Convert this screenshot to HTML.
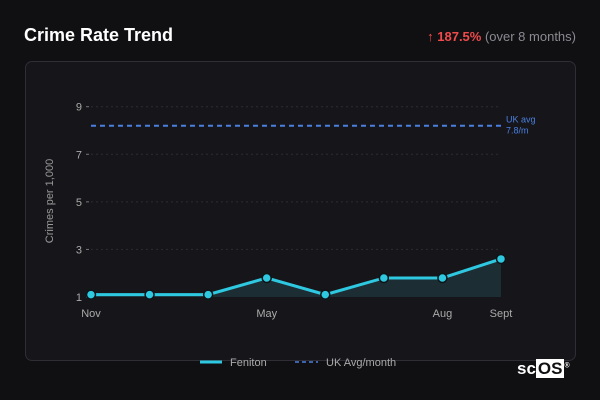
<!DOCTYPE html>
<html><head><meta charset="utf-8"><style>
html,body{margin:0;padding:0;background:#101013;width:600px;height:400px;overflow:hidden;font-family:"Liberation Sans",sans-serif}
</style></head><body>
<div style="position:absolute;left:24px;top:25px;color:#fff;font-size:18px;font-weight:bold">Crime Rate Trend</div>
<div style="position:absolute;right:24px;top:29px;font-size:13px;color:#8a8a90"><span style="color:#ef4b4b;font-weight:bold">↑ 187.5%</span> (over 8 months)</div>
<div style="position:absolute;left:25px;top:61px;width:549px;height:298px;border:1px solid #2e2e34;border-radius:7px;background:#16161a"></div>
<svg id="c" width="600" height="400" style="position:absolute;left:0;top:0"></svg>
<div style="position:absolute;left:517px;top:359px;color:#fff;font-size:17px;font-weight:bold">sc<span style="background:#fff;color:#101013;padding:0 2px">OS</span><sup style="font-size:7px">®</sup></div>
<script>
const categories=["Nov","","","May","","","Aug","Sept"];
const values=[1.1,1.1,1.1,1.8,1.1,1.8,1.8,2.6];
const ukAvg=[8.2];
const yTicks=[1,3,5,7,9];
const ns="http://www.w3.org/2000/svg",svg=document.getElementById('c');
const x0=91,x1=501,yMin=1,yMax=9,yB=297,yT=106.7;
const xs=i=>x0+(x1-x0)*i/(categories.length-1);
const ys=v=>yB-(v-yMin)/(yMax-yMin)*(yB-yT);
function mk(t,a){const e=document.createElementNS(ns,t);for(const k in a)e.setAttribute(k,a[k]);svg.appendChild(e);return e;}
yTicks.forEach(v=>{
 if(v>1){const g=mk('line',{x1:x0,x2:x1,y1:ys(v),y2:ys(v),stroke:'#2c2c31','stroke-dasharray':'2,3'});
 
 }
 const tk=mk('line',{x1:x0-5,x2:x0-2,y1:ys(v),y2:ys(v),stroke:'#777'});
 
 
 const t=mk('text',{x:x0-9,y:ys(v)+4,fill:'#aaa','font-size':11,'text-anchor':'end'});t.textContent=v;
 
 
});
categories.forEach((c,i)=>{if(!c)return;const t=mk('text',{x:xs(i),y:317,fill:'#aaa','font-size':11,'text-anchor':'middle'});t.textContent=c;
 
 });
const yl=mk('text',{x:0,y:0,fill:'#999','font-size':11,'text-anchor':'middle',transform:'translate(53,201) rotate(-90)'});yl.textContent='Crimes per 1,000';


const uk=mk('line',{x1:x0,x2:x1,y1:ys(ukAvg[0]),y2:ys(ukAvg[0]),stroke:'#4a7fe0','stroke-width':2,'stroke-dasharray':'5,4'});


const ul=mk('text',{x:506,y:ys(ukAvg[0])-3,fill:'#4a7fe0','font-size':9});ul.innerHTML='<tspan x="506">UK avg</tspan><tspan x="506" dy="11">7.8/m</tspan>';


let pts=values.map((v,i)=>xs(i)+','+ys(v)).join(' ');
const ar=mk('polygon',{points:pts+' '+xs(values.length-1)+','+yB+' '+x0+','+yB,fill:'#1d3036',opacity:0.9});


const ln=mk('polyline',{points:pts,fill:'none',stroke:'#2ec8e0','stroke-width':3,'stroke-linejoin':'round'});


values.forEach((v,i)=>{const p=mk('circle',{cx:xs(i),cy:ys(v),r:4.5,fill:'#2ec8e0',stroke:'#0c1418','stroke-width':1.5});
 
 });
const l1=mk('line',{x1:200,x2:222,y1:362,y2:362,stroke:'#2ec8e0','stroke-width':3});


const t1=mk('text',{x:230,y:366,fill:'#aaa','font-size':11});t1.textContent='Feniton';


const l2=mk('line',{x1:295,x2:318,y1:362,y2:362,stroke:'#4a7fe0','stroke-width':1.5,'stroke-dasharray':'4,3'});


const t2=mk('text',{x:326,y:366,fill:'#aaa','font-size':11});t2.textContent='UK Avg/month';


</script>
</body></html>
